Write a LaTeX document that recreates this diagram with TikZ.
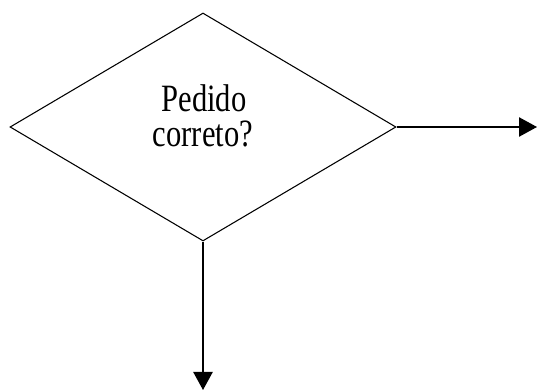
\documentclass[tikz,border=0pt]{standalone}
\usepackage{fontspec}
\setmainfont{Liberation Serif}
\usetikzlibrary{shapes.geometric,arrows.meta}
\begin{document}
\begin{tikzpicture}[x=0.75pt,y=-0.75pt,
  decision/.style={draw=black,line width=0.8pt,diamond,inner sep=0pt,
    minimum width=386*0.75pt,minimum height=228*0.75pt},
  label/.style={anchor=base,font=\fontsize{29}{29}\selectfont,inner sep=0pt},
  flow/.style={draw=black,line width=1pt,-{Triangle[length=13.5pt,width=14.5pt]}}]
\useasboundingbox (0,0) rectangle (537,391);
\node[decision] (d) at (203,127) {};
\node[label] (t1) at (204,112) {\scalebox{0.79}[1]{Pedido}};
\node[label] (t2) at (203,147) {\scalebox{0.79}[1]{correto?}};
\coordinate (e) at (537,127);
\coordinate (s) at (203,390);
\draw[flow] (d.east) -- (e);
\draw[flow] (d.south) -- (s);
\end{tikzpicture}
\end{document}
